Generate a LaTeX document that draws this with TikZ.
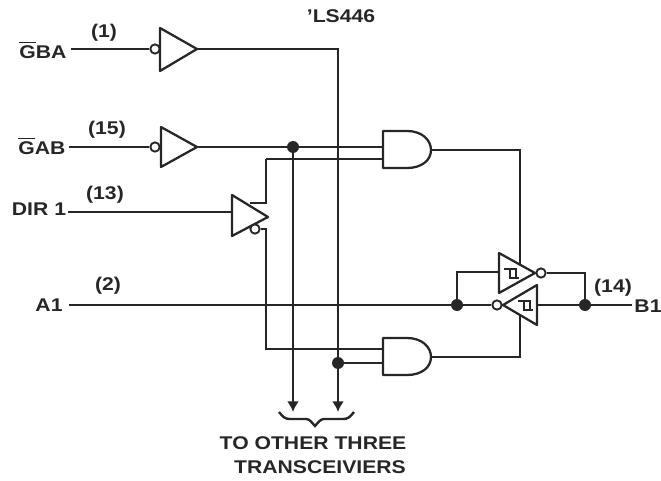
\documentclass[tikz,border=0pt]{standalone}
\usepackage{amsmath}
\usepackage{fontspec}
\setmainfont[FakeStretch=1.15]{Liberation Sans}
\usepackage{tikz}
\usetikzlibrary{arrows.meta}

\begin{document}
\begin{tikzpicture}[x=0.75pt,y=-0.75pt,line join=miter,
		wire/.style={line width=1.8pt,color=black!85},
		gate/.style={line width=1.7pt,color=black!85,line join=round},
		hyst/.style={line width=1.4pt,color=black!85},
		lbl/.style={inner sep=0pt,font=\bfseries\fontsize{13.8}{15}\selectfont,color=black!85},
		dotj/.style={circle,fill=black!85,inner sep=0pt,minimum size=9pt},
		bub/.style={circle,draw=black!85,line width=1.4pt,fill=white,inner sep=0pt,minimum size=7pt}]
		\useasboundingbox (0,0) rectangle (661,481);
		% input side
		\node[lbl] (nGBA) at (43,50) {$\overline{\mbox{G}}$BA};
		\node[lbl] (nGAB) at (42,146) {$\overline{\mbox{G}}$AB};
		\node[lbl] (nDIR) at (39,209) {DIR 1};
		\node[lbl] (nAone) at (49,305) {A1};
		\node[lbl] (nBone) at (648,306) {B1};
		\node[lbl] (pOne) at (104,33) {(1)};
		\node[lbl] (pFifteen) at (107,130) {(15)};
		\node[lbl] (pThirteen) at (105,195) {(13)};
		\node[lbl] (pTwo) at (108,286) {(2)};
		\node[lbl] (pFourteen) at (613,288) {(14)};
		\node[lbl] (nPart) at (341,16) {'LS446};
		\node[lbl] (nOtherA) at (313,443) {TO OTHER THREE};
		\node[lbl] (nOtherB) at (320,467) {TRANSCEIVIERS};
		% buffers
		\draw[gate] (160,28) -- (197,49) -- (160,71) -- cycle;
		\draw[gate] (161,127) -- (197,147) -- (161,167) -- cycle;
		\draw[gate] (232,195) -- (268,217) -- (232,236) -- cycle;
		\node[bub] (bGBA) at (155,49) {};
		\node[bub] (bGAB) at (155,147) {};
		\node[bub] (bDIR) at (255,229) {};
		% and gates
		\draw[gate] (383,131) -- (407,131) .. controls (422,131) and (431,140) .. (431,150) .. controls (431,160) and (422,168) .. (407,168) -- (383,168) -- cycle;
		\begin{scope}[shift={(0,207)}]
		\draw[gate] (383,131) -- (407,131) .. controls (422,131) and (431,140) .. (431,150) .. controls (431,160) and (422,168) .. (407,168) -- (383,168) -- cycle;
		\end{scope}
		% pair of inverters
		\draw[gate] (499,253) -- (535,273) -- (499,293) -- cycle;
		\draw[gate] (537,285) -- (503,305) -- (537,325) -- cycle;
		\node[bub] (bUp) at (541,273) {};
		\node[bub] (bLow) at (497,305) {};
		\draw[hyst] (504,269) -- (516,269) -- (516,278);
		\draw[hyst] (519,278) -- (510,278) -- (510,269);
		\draw[hyst] (518,301) -- (530,301) -- (530,310);
		\draw[hyst] (533,310) -- (524,310) -- (524,301);
		% junctions
		\node[dotj] (dTop) at (293,147) {};
		\node[dotj] (dLow) at (338,363) {};
		\node[dotj] (dA) at (457,305) {};
		\node[dotj] (dB) at (585,305) {};
		\coordinate (arrA) at (293,412);
		\coordinate (arrB) at (338,412);
		% wires
		\draw[wire] (71,49) -- (bGBA);
		\draw[wire] (69,147) -- (bGAB);
		\draw[wire] (68,212) -- (232,212);
		\draw[wire] (69,305) -- (dA) -- (bLow);
		\draw[wire] (197,147) -- (dTop) -- (383,147);
		\draw[wire] (266,159) -- (383,159);
		\draw[wire] (250,203) -- (266,203) -- (266,159);
		\draw[wire] (bDIR) -- (266,229) -- (266,349) -- (383,349);
		\draw[wire] (dLow) -- (383,363);
		\draw[wire,-{Latex[length=8pt,width=9pt]}] (dTop) -- (arrA);
		\draw[wire,-{Latex[length=8pt,width=9pt]}] (197,49) -- (338,49) -- (arrB);
		\draw[wire] (431,150) -- (520,150) -- (520,264);
		\draw[wire] (431,357) -- (520,357) -- (520,315);
		\draw[wire] (499,272) -- (457,272) -- (dA);
		\draw[wire] (bUp) -- (585,273) -- (dB);
		\draw[wire] (537,305) -- (dB) -- (632,305);
		% brace
		\draw[wire] (279,412) .. controls (283,417) and (285,419) .. (290,419) -- (306,419) .. controls (310,419) and (312,423) .. (315,426) .. controls (318,423) and (320,419) .. (324,419) -- (343,419) .. controls (348,419) and (350,417) .. (354,412);
	\end{tikzpicture}
\end{document}
